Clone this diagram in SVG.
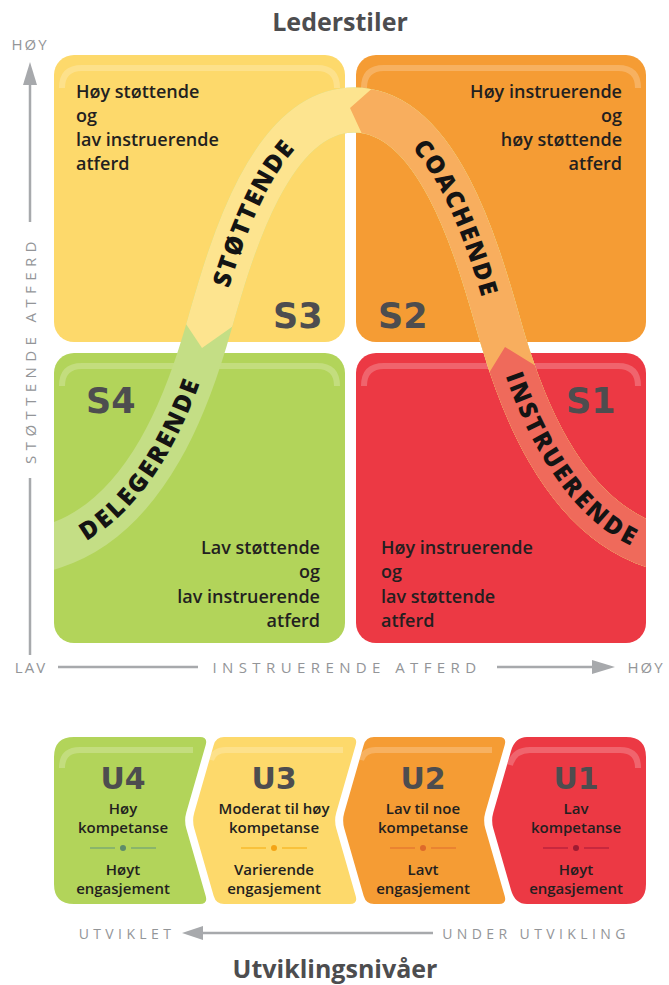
<svg xmlns="http://www.w3.org/2000/svg" width="669" height="985" viewBox="0 0 669 985">
  <defs>
    <style>
      .title{font-family:"Open Sans","Liberation Sans",sans-serif;font-weight:700;font-size:25px;fill:#4d4d4f;text-anchor:middle}
      .axis{font-family:"Open Sans","Liberation Sans",sans-serif;font-size:15px;fill:#939598;letter-spacing:5.4px}
      .axl{stroke:#a7a9ac;stroke-width:2.5;fill:none}
      .axh{fill:#a7a9ac}
      .desc{font-family:"Open Sans","Liberation Sans",sans-serif;font-weight:600;font-size:18px;fill:#231f20}
      .sl{font-family:"DejaVu Sans","Liberation Sans",sans-serif;font-weight:700;font-size:35px;fill:#4d4d4f}
      .band{fill:none;stroke-width:45}
      .bt{font-family:"Open Sans","Liberation Sans",sans-serif;font-weight:800;font-size:24.5px;fill:#141414;letter-spacing:2px}
      .gloss{fill:none;stroke:#fff;stroke-opacity:.22;stroke-width:6}
      .ul{font-family:"DejaVu Sans","Liberation Sans",sans-serif;font-weight:700;font-size:30px;fill:#4d4d4f;text-anchor:middle}
      .ut{font-family:"Open Sans","Liberation Sans",sans-serif;font-weight:600;font-size:15px;fill:#231f20;text-anchor:middle}
    </style>
    <!-- centre line of the style band, split per quadrant -->
    <path id="pL1" d="M54,546 C150,515 190,390 205,340"/>
    <path id="pL2" d="M205,340 C225,272 264,110 354,110"/>
    <path id="pR2" d="M354,110 C444,110 483,272 503,340"/>
    <path id="pR1" d="M503,340 C518,390 558,515 654,546"/>
    <path id="pAll" d="M20,557 L54,546 C150,515 190,390 205,340 C225,272 264,110 354,110 C444,110 483,272 503,340 C518,390 558,515 654,546 L690,557"/>
    <clipPath id="cBand"><rect x="54" y="0" width="592" height="985"/></clipPath>
    <clipPath id="cY"><polygon points="202,348 270,300 330,300 330,720 720,720 720,0 150,0 150,270"/></clipPath>
    <clipPath id="cO"><polygon points="350,108 410,55 720,55 720,720 380,720 380,173"/></clipPath>
    <clipPath id="cR"><polygon points="505,347 460,420 460,720 720,720 720,387 570,387"/></clipPath>
  </defs>

  <rect width="669" height="985" fill="#fff"/>

  <!-- titles -->
  <text class="title" x="340" y="31">Lederstiler</text>
  <text class="title" x="335" y="978">Utviklingsnivåer</text>

  <!-- quadrants -->
  <g id="S3">
    <rect x="54" y="55" width="291" height="287" rx="20" fill="#fdd96b"/>
    <path class="gloss" d="M62,88 Q62,68 82,68 H317 Q337,68 337,88"/>
  </g>
  <g id="S2">
    <rect x="356" y="55" width="290" height="287" rx="20" fill="#f59c34"/>
    <path class="gloss" d="M364,88 Q364,68 384,68 H618 Q638,68 638,88"/>
  </g>
  <g id="S4">
    <rect x="54" y="353" width="291" height="290" rx="20" fill="#b2d45a"/>
    <path class="gloss" d="M62,386 Q62,366 82,366 H317 Q337,366 337,386"/>
  </g>
  <g id="S1">
    <rect x="356" y="353" width="290" height="290" rx="20" fill="#ec3944"/>
    <path class="gloss" d="M364,386 Q364,366 384,366 H618 Q638,366 638,386"/>
  </g>

  <!-- style band across the quadrants -->
  <g id="band" clip-path="url(#cBand)">
    <use href="#pAll" class="band" stroke="#c4de85"/>
    <use href="#pAll" class="band" stroke="#fde48f" clip-path="url(#cY)"/>
    <use href="#pAll" class="band" stroke="#f8ae5e" clip-path="url(#cO)"/>
    <use href="#pAll" class="band" stroke="#ef6a5b" clip-path="url(#cR)"/>
  </g>
  <g id="band-labels">
    <text class="bt" dy="8.5"><textPath href="#pL1" startOffset="48%" text-anchor="middle">DELEGERENDE</textPath></text>
    <text class="bt" dy="8.5"><textPath href="#pL2" startOffset="47%" text-anchor="middle">STØTTENDE</textPath></text>
    <text class="bt" dy="8.5"><textPath href="#pR2" startOffset="55%" text-anchor="middle">COACHENDE</textPath></text>
    <text class="bt" dy="8.5"><textPath href="#pR1" startOffset="53%" text-anchor="middle">INSTRUERENDE</textPath></text>
  </g>

  <!-- quadrant labels -->
  <g id="S3-text">
    <text class="sl" x="273" y="328">S3</text>
    <text class="desc" x="76" y="98">Høy støttende</text>
    <text class="desc" x="76" y="122">og</text>
    <text class="desc" x="76" y="146">lav instruerende</text>
    <text class="desc" x="76" y="170">atferd</text>
  </g>
  <g id="S2-text">
    <text class="sl" x="378" y="328">S2</text>
    <g text-anchor="end">
      <text class="desc" x="622" y="98">Høy instruerende</text>
      <text class="desc" x="622" y="122">og</text>
      <text class="desc" x="622" y="146">høy støttende</text>
      <text class="desc" x="622" y="170">atferd</text>
    </g>
  </g>
  <g id="S4-text">
    <text class="sl" x="86" y="413">S4</text>
    <g text-anchor="end">
      <text class="desc" x="320" y="554">Lav støttende</text>
      <text class="desc" x="320" y="578">og</text>
      <text class="desc" x="320" y="603">lav instruerende</text>
      <text class="desc" x="320" y="627">atferd</text>
    </g>
  </g>
  <g id="S1-text">
    <text class="sl" x="566" y="413">S1</text>
    <text class="desc" x="381" y="554">Høy instruerende</text>
    <text class="desc" x="381" y="578">og</text>
    <text class="desc" x="381" y="603">lav støttende</text>
    <text class="desc" x="381" y="627">atferd</text>
  </g>

  <!-- axes -->
  <g id="axes">
    <text class="axis" x="30" y="50" text-anchor="middle" style="letter-spacing:2px">HØY</text>
    <polygon class="axh" points="30,62 23,85 37,85"/>
    <line class="axl" x1="30" y1="84" x2="30" y2="222"/>
    <text class="axis" transform="translate(36,350) rotate(-90)" text-anchor="middle">STØTTENDE ATFERD</text>
    <line class="axl" x1="30" y1="478" x2="30" y2="655"/>
    <text class="axis" x="31" y="673" text-anchor="middle" style="letter-spacing:2px">LAV</text>
    <line class="axl" x1="58" y1="667" x2="198" y2="667"/>
    <text class="axis" x="347" y="673" text-anchor="middle">INSTRUERENDE ATFERD</text>
    <line class="axl" x1="497" y1="667" x2="595" y2="667"/>
    <polygon class="axh" points="615,667 592,660 592,674"/>
    <text class="axis" x="646" y="673" text-anchor="middle" style="letter-spacing:2px">HØY</text>

    <text class="axis" x="127" y="939" text-anchor="middle" style="font-size:14px;letter-spacing:4.4px">UTVIKLET</text>
    <polygon class="axh" points="182,933 203,926 203,940"/>
    <line class="axl" x1="200" y1="933" x2="433" y2="933"/>
    <text class="axis" x="536" y="939" text-anchor="middle" style="font-size:14px;letter-spacing:4.4px">UNDER UTVIKLING</text>
  </g>

  <!-- development levels -->
  <g id="U4">
    <path d="M74,737 H200 Q208,737 205.7,745 L186.3,812.5 Q184,820.5 186.3,828.5 L205.7,896 Q208,904 200,904 H74 Q54,904 54,884 V757 Q54,737 74,737 Z" fill="#b2d45a"/>
    <path class="gloss" d="M62,768 Q62,750 80,750 H193"/>
    <text class="ul" x="123" y="789">U4</text>
    <text class="ut" x="123" y="814">Høy</text>
    <text class="ut" x="123" y="833">kompetanse</text>
    <line x1="90" y1="848" x2="115" y2="848" stroke="#6f9f78" stroke-width="1.2"/>
    <circle cx="123" cy="848" r="3" fill="#5e8c6a"/>
    <line x1="131" y1="848" x2="156" y2="848" stroke="#6f9f78" stroke-width="1.2"/>
    <text class="ut" x="123" y="875">Høyt</text>
    <text class="ut" x="123" y="894">engasjement</text>
  </g>
  <g id="U3">
    <path d="M224,737 H350 Q358,737 355.7,745 L336.3,812.5 Q334,820.5 336.3,828.5 L355.7,896 Q358,904 350,904 H224 Q216,904 213.7,896 L194.3,828.5 Q192,820.5 194.3,812.5 L213.7,745 Q216,737 224,737 Z" fill="#fdd96b"/>
    <path class="gloss" d="M211,760 Q214,750 226,750 H343"/>
    <text class="ul" x="274" y="789">U3</text>
    <text class="ut" x="274" y="814">Moderat til høy</text>
    <text class="ut" x="274" y="833">kompetanse</text>
    <line x1="241" y1="848" x2="266" y2="848" stroke="#f6b21b" stroke-width="1.2"/>
    <circle cx="274" cy="848" r="3" fill="#f4a416"/>
    <line x1="282" y1="848" x2="307" y2="848" stroke="#f6b21b" stroke-width="1.2"/>
    <text class="ut" x="274" y="875">Varierende</text>
    <text class="ut" x="274" y="894">engasjement</text>
  </g>
  <g id="U2">
    <path d="M374,737 H499 Q507,737 504.7,745 L485.3,812.5 Q483,820.5 485.3,828.5 L504.7,896 Q507,904 499,904 H374 Q366,904 363.7,896 L344.3,828.5 Q342,820.5 344.3,812.5 L363.7,745 Q366,737 374,737 Z" fill="#f59c34"/>
    <path class="gloss" d="M361,760 Q364,750 376,750 H492"/>
    <text class="ul" x="423" y="789">U2</text>
    <text class="ut" x="423" y="814">Lav til noe</text>
    <text class="ut" x="423" y="833">kompetanse</text>
    <line x1="390" y1="848" x2="415" y2="848" stroke="#e3722f" stroke-width="1.2"/>
    <circle cx="423" cy="848" r="3" fill="#de6a2b"/>
    <line x1="431" y1="848" x2="456" y2="848" stroke="#e3722f" stroke-width="1.2"/>
    <text class="ut" x="423" y="875">Lavt</text>
    <text class="ut" x="423" y="894">engasjement</text>
  </g>
  <g id="U1">
    <path d="M527,737 H626 Q646,737 646,757 V884 Q646,904 626,904 H527 Q515,904 511,890 L493.3,828.5 Q491,820.5 493.3,812.5 L511,751 Q515,737 527,737 Z" fill="#ec3944"/>
    <path class="gloss" d="M510,765 Q514,750 530,750 H620 Q638,750 638,768"/>
    <text class="ul" x="576" y="789">U1</text>
    <text class="ut" x="576" y="814">Lav</text>
    <text class="ut" x="576" y="833">kompetanse</text>
    <line x1="543" y1="848" x2="568" y2="848" stroke="#b01e3c" stroke-width="1.2"/>
    <circle cx="576" cy="848" r="3" fill="#9e1b32"/>
    <line x1="584" y1="848" x2="609" y2="848" stroke="#b01e3c" stroke-width="1.2"/>
    <text class="ut" x="576" y="875">Høyt</text>
    <text class="ut" x="576" y="894">engasjement</text>
  </g>
</svg>
